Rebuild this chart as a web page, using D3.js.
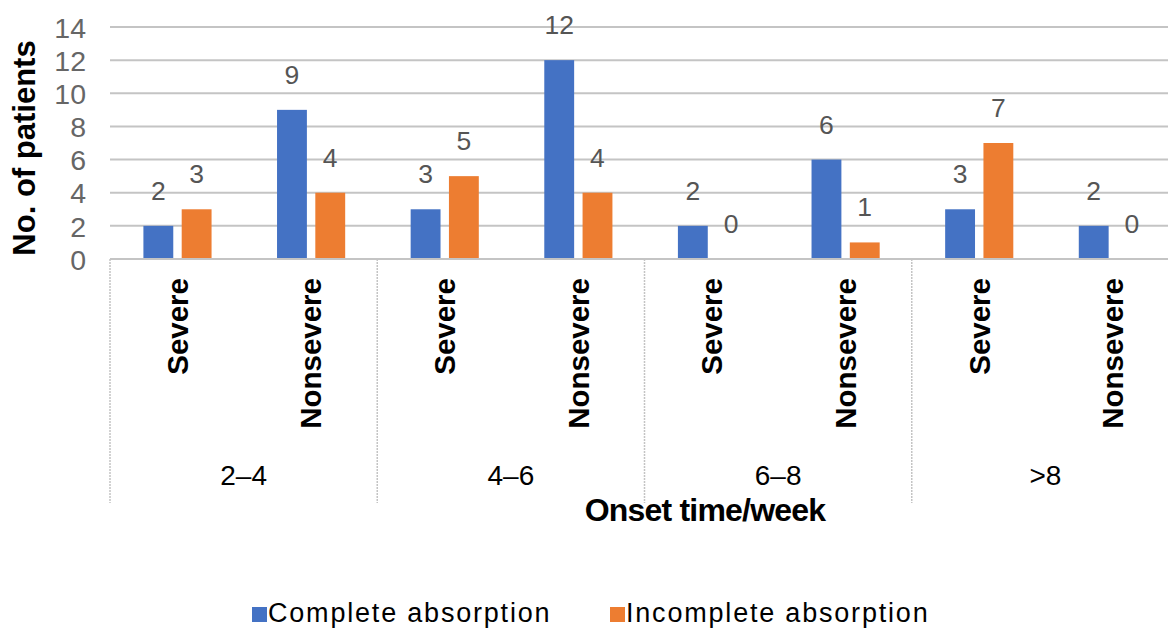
<!DOCTYPE html>
<html>
<head>
<meta charset="utf-8">
<script src="https://cdn.jsdelivr.net/npm/d3@7"></script>
<style>
  html, body { margin: 0; padding: 0; background: #fff; }
  svg { display: block; font-family: "Liberation Sans", Arial, sans-serif; }
</style>
</head>
<body>
<svg id="chart" width="1168" height="629"></svg>
<script>
// Onset-time groups and severity sub-categories
const groups = ["2–4", "4–6", "6–8", ">8"];
const severities = ["Severe", "Nonsevere"];
const seriesNames = ["Complete absorption", "Incomplete absorption"];
const seriesColors = ["#4472C4", "#ED7D31"];

// Patient counts, in order: 2–4 Severe, 2–4 Nonsevere, 4–6 Severe, ...
const completeAbsorption = [2, 9, 3, 12, 2, 6, 3, 2];
const incompleteAbsorption = [3, 4, 5, 4, 0, 1, 7, 0];

const yTicks = [0, 2, 4, 6, 8, 10, 12, 14];

const svg = d3.select("#chart");

const plotLeft = 110, plotRight = 1179, plotTop = 27, plotBottom = 259;

const y = d3.scaleLinear().domain([0, 14]).range([plotBottom, plotTop]);
const xGroup = d3.scaleBand().domain(groups).range([plotLeft, plotRight]).padding(0);
const xSev = d3.scaleBand().domain(severities).range([0, xGroup.bandwidth()]).padding(0);
const xSeries = d3.scaleBand().domain(seriesNames)
  .range([xSev.bandwidth() * 0.25, xSev.bandwidth() * 0.76]).paddingInner(0.22);

// Gridlines
const gridG = svg.append("g");
gridG.selectAll("line").data(yTicks).join("line")
  .attr("x1", plotLeft).attr("x2", 1168)
  .attr("y1", d => y(d)).attr("y2", d => y(d))
  .attr("stroke", "#c4c4c4").attr("stroke-width", 2);

// Y tick labels
const yAxis = d3.axisLeft(y).tickValues(yTicks).tickSize(0).tickPadding(0);
const yAxisG = svg.append("g").attr("transform", "translate(86,0)").call(yAxis);
yAxisG.select(".domain").remove();
yAxisG.selectAll("text")
  .attr("font-family", "'Liberation Sans', Arial, sans-serif")
  .attr("font-size", 28.5).attr("fill", "#666").attr("dy", "0.36em");

// Y axis title
svg.append("text")
  .attr("transform", `translate(35,148) rotate(-90)`)
  .attr("text-anchor", "middle").attr("font-size", 31).attr("font-weight", "bold")
  .attr("fill", "#000").text("No. of patients");

// Build flat category list
const cats = [];
groups.forEach((g, gi) => severities.forEach((s, si) => {
  const i = gi * severities.length + si;
  cats.push({ group: g, sev: s, values: [completeAbsorption[i], incompleteAbsorption[i]] });
}));

const catG = svg.append("g").selectAll("g").data(cats).join("g")
  .attr("transform", d => `translate(${xGroup(d.group) + xSev(d.sev)},0)`);

catG.selectAll("rect")
  .data(d => d.values.map((v, k) => ({ v, k })))
  .join("rect")
  .attr("x", d => xSeries(seriesNames[d.k]))
  .attr("width", xSeries.bandwidth())
  .attr("y", d => y(d.v))
  .attr("height", d => y(0) - y(d.v))
  .attr("fill", d => seriesColors[d.k]);

catG.selectAll("text.val")
  .data(d => d.values.map((v, k) => ({ v, k })))
  .join("text").attr("class", "val")
  .attr("x", d => xSeries(seriesNames[d.k]) + xSeries.bandwidth() / 2)
  .attr("y", d => y(d.v) - 26)
  .attr("text-anchor", "middle").attr("font-size", 26.5).attr("fill", "#555")
  .text(d => d.v);

// Severity labels (rotated)
catG.append("text")
  .attr("transform", `translate(${xSev.bandwidth() / 2 + 11},278) rotate(-90)`)
  .attr("text-anchor", "end").attr("font-size", 29.5).attr("font-weight", "bold")
  .attr("fill", "#000").text(d => d.sev);

// Baseline
svg.append("line").attr("x1", plotLeft).attr("x2", 1168)
  .attr("y1", plotBottom).attr("y2", plotBottom)
  .attr("stroke", "#c4c4c4").attr("stroke-width", 2);

// Group separators
const sepXs = groups.map(g => xGroup(g)).concat([plotRight]);
svg.append("g").selectAll("line").data(sepXs).join("line")
  .attr("x1", d => d).attr("x2", d => d)
  .attr("y1", plotBottom).attr("y2", 503)
  .attr("stroke", "#c4c4c4").attr("stroke-width", 1.5)
  .attr("stroke-dasharray", "2,1");

// Group labels
svg.append("g").selectAll("text").data(groups).join("text")
  .attr("x", d => xGroup(d) + xGroup.bandwidth() / 2)
  .attr("y", 485)
  .attr("text-anchor", "middle").attr("font-size", 28).attr("fill", "#000")
  .text(d => d);

// X axis title
svg.append("text")
  .attr("x", 705).attr("y", 521)
  .attr("text-anchor", "middle").attr("font-size", 32).attr("font-weight", "bold")
  .attr("letter-spacing", "-0.8").attr("fill", "#000")
  .text("Onset time/week");

// Legend
const legendItems = [
  { name: seriesNames[0], color: seriesColors[0], x: 252 },
  { name: seriesNames[1], color: seriesColors[1], x: 610 }
];
const lg = svg.append("g").selectAll("g").data(legendItems).join("g")
  .attr("transform", d => `translate(${d.x},0)`);
lg.append("rect").attr("x", 0).attr("y", 607).attr("width", 15).attr("height", 15)
  .attr("fill", d => d.color);
lg.append("text").attr("x", 16).attr("y", 622)
  .attr("font-size", 27).attr("letter-spacing", "1.8").attr("fill", "#000")
  .text(d => d.name);
</script>
</body>
</html>
